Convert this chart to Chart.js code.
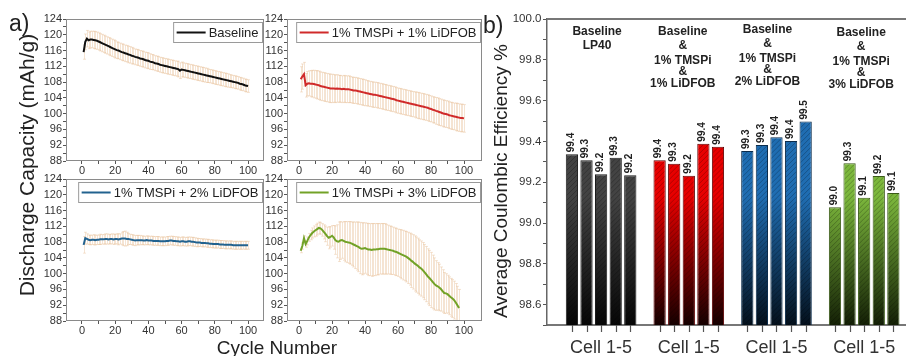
<!DOCTYPE html>
<html>
<head>
<meta charset="utf-8">
<script src="https://cdn.jsdelivr.net/npm/chart.js@4.4.1/dist/chart.umd.min.js"></script>
<style>
  body { margin: 0; background: #fff; }
  #wrap { position: relative; width: 906px; height: 356px; overflow: hidden; font-family: Arial, "Liberation Sans", sans-serif; color: #222; }
  canvas { position: absolute; }
  .txt { position: absolute; white-space: nowrap; line-height: 1; }
  .mid { transform: translate(-50%, -50%); }
  .rot { transform: translate(-50%, -50%) rotate(-90deg); }
</style>
</head>
<body>
<div id="wrap">
  <canvas id="capBase" width="266" height="178" style="left:0;top:0"></canvas>
  <canvas id="capT1" width="236" height="178" style="left:250px;top:0"></canvas>
  <canvas id="capT2" width="266" height="178" style="left:0;top:160px"></canvas>
  <canvas id="capT3" width="236" height="178" style="left:250px;top:160px"></canvas>
  <canvas id="ceChart" width="426" height="356" style="left:480px;top:0"></canvas>
  <div class="txt" style="left:9px;top:12px;font-size:23px">a)</div>
  <div class="txt" style="left:483px;top:14px;font-size:23px">b)</div>
  <div class="txt rot" style="left:26px;top:165px;font-size:21px">Discharge Capacity (mAh/g)</div>
  <div class="txt mid" style="left:277px;top:347px;font-size:19px">Cycle Number</div>
  <div class="txt rot" style="left:500px;top:181px;font-size:19px">Average Coulombic Efficiency %</div>
</div>
<script>
Chart.defaults.font.family = 'Arial, "Liberation Sans", sans-serif';
Chart.defaults.color = '#333';

// ---- a) discharge capacity vs cycle ----
const cycleTicks = [0, 20, 40, 60, 80, 100];
const capacityTicks = [88, 92, 96, 100, 104, 108, 112, 116, 120, 124];

const baseline = [115.6,118.2,119.0,118.6,118.8,118.8,118.7,118.6,118.5,118.3,
  118.1,117.9,117.7,117.5,117.3,117.1,116.9,116.7,116.5,116.3,
  116.1,116.0,115.8,115.6,115.5,115.3,115.2,115.0,114.9,114.7,
  114.6,114.4,114.3,114.2,114.0,113.9,113.8,113.6,113.5,113.4,
  113.2,113.1,113.0,112.8,112.7,112.6,112.4,112.3,112.2,112.1,
  112.0,111.9,111.8,111.7,111.6,111.5,111.4,111.3,110.9,111.2,
  111.1,111.0,110.9,110.8,110.7,110.6,110.5,110.4,110.3,110.2,
  110.1,110.0,109.9,109.8,109.7,109.6,109.5,109.4,109.3,109.2,
  109.1,109.0,108.9,108.8,108.7,108.6,108.5,108.4,108.3,108.2,
  108.1,108.0,107.9,107.8,107.6,107.5,107.4,107.2,107.1,107.0];
const baselineErr = [1.8,2.0,2.1,2.1,2.1,2.1,2.2,2.2,2.2,2.2,
  2.2,2.2,2.2,2.2,2.2,2.2,2.2,2.2,2.2,2.2,
  2.1,2.1,2.1,2.1,2.1,2.1,2.1,2.1,2.1,2.1,
  2.0,2.0,2.0,2.0,2.0,2.0,2.0,2.0,2.0,2.0,
  2.0,1.9,1.9,1.9,1.9,1.9,1.9,1.9,1.9,1.9,
  1.9,1.9,1.9,1.9,1.9,1.9,1.9,2.0,2.0,1.9,
  1.8,1.8,1.8,1.8,1.8,1.8,1.8,1.8,1.8,1.8,
  1.8,1.8,1.8,1.8,1.8,1.7,1.7,1.7,1.7,1.7,
  1.7,1.7,1.7,1.7,1.7,1.7,1.7,1.7,1.6,1.6,
  1.6,1.6,1.6,1.6,1.6,1.6,1.6,1.6,1.6,1.6];

const tmspi1 = [108.7,109.4,110.0,107.2,107.6,107.7,107.6,107.6,107.5,107.4,
  107.3,107.2,107.0,106.9,106.8,106.7,106.6,106.5,106.4,106.4,
  106.4,106.3,106.4,106.3,106.3,106.2,106.3,106.2,106.2,106.2,
  106.1,106.0,105.9,105.9,105.8,105.7,105.6,105.5,105.4,105.3,
  105.2,105.1,105.0,104.9,104.8,104.8,104.7,104.6,104.5,104.4,
  104.3,104.2,104.1,104.0,103.9,103.8,103.7,103.6,103.4,103.3,
  103.2,103.1,103.0,102.9,102.8,102.7,102.6,102.5,102.4,102.3,
  102.2,102.1,102.0,101.9,101.8,101.7,101.6,101.5,101.3,101.2,
  101.0,100.9,100.7,100.6,100.4,100.3,100.1,100.0,99.9,99.8,
  99.6,99.5,99.4,99.3,99.2,99.1,99.0,98.9,98.9,98.8];
const tmspi1Err = [3.2,3.2,3.0,3.0,3.1,3.2,3.3,3.4,3.5,3.5,
  3.6,3.6,3.6,3.6,3.6,3.6,3.6,3.6,3.6,3.6,
  3.5,3.5,3.5,3.4,3.4,3.4,3.4,3.4,3.4,3.4,
  3.3,3.3,3.3,3.3,3.3,3.3,3.3,3.3,3.3,3.3,
  3.2,3.2,3.2,3.2,3.2,3.2,3.2,3.2,3.2,3.2,
  3.2,3.2,3.2,3.2,3.2,3.2,3.2,3.2,3.2,3.2,
  3.2,3.2,3.2,3.2,3.2,3.2,3.2,3.2,3.2,3.2,
  3.3,3.3,3.3,3.3,3.3,3.3,3.3,3.3,3.3,3.3,
  3.3,3.3,3.4,3.4,3.4,3.4,3.4,3.4,3.4,3.4,
  3.4,3.4,3.4,3.4,3.5,3.5,3.5,3.5,3.5,3.5];

const tmspi2 = [107.3,109.0,108.8,108.6,108.5,108.6,108.6,108.5,108.6,108.6,
  108.7,108.7,108.7,108.8,108.8,108.7,108.8,108.8,108.7,108.8,
  108.8,108.7,108.8,108.9,108.9,108.9,108.8,108.8,108.7,108.6,
  108.5,108.4,108.5,108.5,108.5,108.5,108.4,108.4,108.5,108.4,
  108.4,108.4,108.3,108.3,108.3,108.3,108.2,108.2,108.2,108.2,
  108.3,108.3,108.4,108.4,108.3,108.3,108.2,108.2,108.1,108.2,
  108.2,108.1,108.1,108.2,108.2,108.1,108.1,108.0,107.9,107.9,
  107.9,107.8,107.8,107.8,107.7,107.7,107.6,107.6,107.5,107.5,
  107.5,107.5,107.4,107.4,107.4,107.3,107.3,107.3,107.3,107.3,
  107.2,107.2,107.2,107.2,107.2,107.2,107.2,107.2,107.2,107.2];
const tmspi2Err = [2.1,1.5,1.3,1.2,1.2,1.2,1.3,1.2,1.2,1.2,
  1.3,1.2,1.2,1.3,1.3,1.2,1.2,1.3,1.3,1.2,
  1.3,1.4,1.3,1.6,1.8,1.9,1.7,1.4,1.3,1.3,
  1.3,1.3,1.2,1.2,1.2,1.1,1.1,1.1,1.1,1.1,
  1.1,1.1,1.1,1.1,1.1,1.1,1.1,1.1,1.1,1.1,
  1.1,1.1,1.1,1.1,1.1,1.1,1.1,1.1,1.1,1.1,
  1.1,1.1,1.1,1.1,1.1,1.1,1.1,1.1,1.1,1.0,
  1.0,1.0,1.0,1.0,1.0,1.0,1.0,1.0,1.0,1.0,
  1.0,1.0,1.0,1.0,1.0,1.0,1.0,1.0,1.0,1.0,
  1.0,1.0,1.0,1.0,1.0,1.0,1.0,1.0,1.0,1.0];

const tmspi3 = [105.8,107.0,109.0,107.5,108.3,109.2,109.8,110.3,110.7,111.0,
  111.3,111.6,111.5,111.1,110.6,110.1,109.5,109.1,109.3,109.6,
  109.2,108.5,108.2,108.1,108.4,108.5,108.3,108.1,108.0,107.9,
  107.8,107.6,107.4,107.2,107.0,106.8,106.5,106.3,106.4,106.5,
  106.3,106.1,106.1,106.0,106.1,106.1,106.2,106.2,106.3,106.3,
  106.3,106.3,106.2,106.1,106.0,105.9,105.8,105.6,105.5,105.3,
  105.1,104.9,104.7,104.5,104.3,104.0,103.7,103.3,103.0,102.6,
  102.3,102.0,101.6,101.3,100.9,100.4,99.9,99.3,98.9,98.4,
  97.9,97.4,97.0,96.8,96.5,96.1,95.6,95.1,95.0,94.8,
  94.4,94.0,93.7,93.3,92.7,92.0,91.3];
const tmspi3Err = [0.5,0.8,0.6,0.8,1.0,1.0,1.2,1.3,1.4,1.5,
  1.5,1.5,1.5,1.6,1.8,2.0,2.3,2.8,2.6,2.6,
  3.0,3.6,4.2,5.0,4.8,4.6,4.9,5.1,5.2,5.3,
  5.4,5.5,5.7,5.9,6.1,6.3,6.5,6.6,6.5,6.4,
  6.5,6.6,6.6,6.7,6.6,6.6,6.5,6.5,6.4,6.4,
  6.4,6.4,6.3,6.2,6.1,6.1,6.0,6.0,6.0,6.0,
  6.1,6.2,6.3,6.3,6.4,6.5,6.6,6.8,6.9,7.0,
  7.0,7.0,7.0,7.0,7.0,7.0,7.0,7.0,7.0,7.0,
  6.8,6.6,6.3,6.0,5.9,5.6,5.4,5.2,5.0,4.8,
  4.8,4.8,4.8,4.8,4.8,4.8,4.7];

// ---- b) average coulombic efficiency, 5 cells per electrolyte ----
const cellNames = ['Cell 1', 'Cell 2', 'Cell 3', 'Cell 4', 'Cell 5'];
const cellAxisLabel = 'Cell 1-5';
const groupTitles = [
  ['Baseline', 'LP40'],
  ['Baseline', '&', '1% TMSPi', '&', '1% LiDFOB'],
  ['Baseline', '&', '1% TMSPi', '&', '2% LiDFOB'],
  ['Baseline', '&', '1% TMSPi', '&', '3% LiDFOB'],
];
const ceBaseline = [99.337, 99.307, 99.239, 99.320, 99.234];
const ceTmspi1 = [99.307, 99.291, 99.232, 99.389, 99.374];
const ceTmspi2 = [99.353, 99.382, 99.420, 99.402, 99.497];
const ceTmspi3 = [99.077, 99.293, 99.124, 99.230, 99.147];
const ceLabels = [
  ['99.4', '99.3', '99.2', '99.3', '99.2'],
  ['99.4', '99.3', '99.2', '99.4', '99.4'],
  ['99.3', '99.3', '99.4', '99.4', '99.5'],
  ['99.0', '99.3', '99.1', '99.2', '99.1'],
];
const ceTicks = ['98.6', '98.8', '99.0', '99.2', '99.4', '99.6', '99.8', '100.0'];

const withMinor = (major) => {
  const out = [];
  major.forEach((v, i) => {
    out.push(v);
    if (i < major.length - 1) out.push((v + major[i + 1]) / 2);
  });
  return out;
};

function capacityPanel(id, label, color, values, errors, frame) {
  const decor = {
    id: 'decor',
    beforeDatasetsDraw(chart) {
      const { ctx, chartArea: a, scales: { x, y } } = chart;
      ctx.save();
      ctx.beginPath();
      ctx.rect(a.left, a.top, a.width, a.height);
      ctx.clip();
      ctx.strokeStyle = 'rgba(230,185,140,0.38)';
      ctx.lineWidth = 1;
      values.forEach((v, i) => {
        const px = Math.round(x.getPixelForValue(i + 1)) + 0.5;
        const t = y.getPixelForValue(v + errors[i]);
        const b = y.getPixelForValue(v - errors[i]);
        ctx.beginPath();
        ctx.moveTo(px, t); ctx.lineTo(px, b);
        ctx.moveTo(px - 1.5, t); ctx.lineTo(px + 1.5, t);
        ctx.moveTo(px - 1.5, b); ctx.lineTo(px + 1.5, b);
        ctx.stroke();
      });
      ctx.restore();
    },
    afterDraw(chart) {
      const { ctx, chartArea: a } = chart;
      ctx.save();
      ctx.strokeStyle = '#8a8a8a';
      ctx.lineWidth = 1;
      ctx.strokeRect(a.left + 0.5, a.top + 0.5, a.width - 1, a.height - 1);
      // legend box
      ctx.font = '13px Arial, "Liberation Sans", sans-serif';
      const tw = ctx.measureText(label).width;
      const w = 3 + 29 + 3 + tw + 4;
      const right = a.right - 1.5;
      const left = right - w;
      const top = a.top + 3.5;
      ctx.fillStyle = '#fff';
      ctx.fillRect(left, top, w, 20);
      ctx.strokeStyle = '#9a9a9a';
      ctx.strokeRect(left, top, w, 20);
      ctx.strokeStyle = color;
      ctx.lineWidth = 2;
      ctx.beginPath();
      ctx.moveTo(left + 3, top + 10);
      ctx.lineTo(left + 32, top + 10);
      ctx.stroke();
      ctx.fillStyle = '#222';
      ctx.textBaseline = 'middle';
      ctx.fillText(label, left + 35, top + 10.5);
      ctx.restore();
    }
  };

  return new Chart(document.getElementById(id), {
    type: 'line',
    data: {
      datasets: [{
        label,
        data: values.map((v, i) => ({ x: i + 1, y: v })),
        borderColor: color,
        borderWidth: 2,
        pointRadius: 0,
        tension: 0,
        fill: false,
      }],
    },
    options: {
      animation: false,
      responsive: false,
      devicePixelRatio: 1,
      layout: { padding: { top: 19, right: frame.padRight, bottom: 0, left: 0 } },
      plugins: { legend: { display: false }, tooltip: { enabled: false } },
      scales: {
        x: {
          type: 'linear',
          min: frame.xMin,
          max: frame.xMax,
          afterBuildTicks: (s) => { s.ticks = withMinor(cycleTicks).map((v) => ({ value: v })); },
          afterFit: (s) => { s.height = 17; },
          ticks: {
            autoSkip: false, maxRotation: 0, minRotation: 0, padding: 0,
            font: { size: 11 }, color: '#333',
            callback: (v) => (cycleTicks.includes(v) ? v : ''),
          },
          grid: { drawOnChartArea: false, tickLength: 3, color: '#555' },
          border: { display: false },
        },
        y: {
          min: 88,
          max: 124,
          afterBuildTicks: (s) => { s.ticks = withMinor(capacityTicks).map((v) => ({ value: v })); },
          afterFit: (s) => { s.width = frame.yWidth; },
          ticks: {
            autoSkip: false, padding: 1,
            font: { size: 11 }, color: '#333',
            callback: (v) => (capacityTicks.includes(v) ? v : ''),
          },
          grid: { drawOnChartArea: false, tickLength: 3, color: '#555' },
          border: { display: false },
        },
      },
    },
    plugins: [decor],
  });
}

const leftFrame = { padRight: 2, yWidth: 66, xMin: -9.6, xMax: 109.6 };
const rightFrame = { padRight: 4, yWidth: 37, xMin: -7.3, xMax: 110.9 };
capacityPanel('capBase', 'Baseline', '#111111', baseline, baselineErr, leftFrame);
capacityPanel('capT1', '1% TMSPi + 1% LiDFOB', '#d02a2a', tmspi1, tmspi1Err, rightFrame);
capacityPanel('capT2', '1% TMSPi + 2% LiDFOB', '#22628f', tmspi2, tmspi2Err, leftFrame);
capacityPanel('capT3', '1% TMSPi + 3% LiDFOB', '#72a227', tmspi3, tmspi3Err, rightFrame);

// ---- b) bar chart ----
const ceGroups = [ceBaseline, ceTmspi1, ceTmspi2, ceTmspi3];
const groupTop = ['#434343', '#e80000', '#1f6db2', '#7cb83c'];
const groupBottom = ['#060606', '#160000', '#04101c', '#142006'];
const groupEdge = ['#1c1c1c', '#5e0000', '#0b2c4c', '#3b5a18'];
const titleNudge = [-4, -6, -9, -3];
const titleTop = [32, 31.5, 29.5, 32.5];
const titleLineGap = [0, 14, 29.5, 40, 52.5];

function barFill(ctx) {
  const i = ctx.dataIndex;
  const a = ctx.chart.chartArea;
  if (!a) return groupTop[i];
  const g = ctx.chart.ctx.createLinearGradient(0, a.top + a.height * 0.58, 0, a.bottom);
  g.addColorStop(0, groupTop[i]);
  g.addColorStop(1, groupBottom[i]);
  return g;
}

const barDecor = {
  id: 'barDecor',
  afterDatasetsDraw(chart) {
    const { ctx, chartArea: a, scales: { x } } = chart;
    ctx.save();
    chart.data.datasets.forEach((ds, j) => {
      chart.getDatasetMeta(j).data.forEach((bar, i) => {
        const props = bar.getProps(['x', 'y', 'base', 'width'], true);
        const bx = props.x, by = props.y, width = props.width;
        const base = Math.min(props.base, a.bottom);
        const left = bx - width / 2 + 1;
        const w = width - 2;
        const h = base - by - 1;
        // hatch
        ctx.save();
        ctx.beginPath();
        ctx.rect(left, by + 1, w, h);
        ctx.clip();
        ctx.strokeStyle = 'rgba(0,0,0,0.3)';
        ctx.lineWidth = 0.8;
        ctx.beginPath();
        for (let k = -h; k < w + h; k += 5) {
          ctx.moveTo(left + k, base);
          ctx.lineTo(left + k + h + 2, by - 1);
        }
        ctx.stroke();
        ctx.restore();
        // value label
        ctx.save();
        ctx.translate(bx - 1, by - 2);
        ctx.rotate(-Math.PI / 2);
        ctx.font = 'bold 10px Arial, "Liberation Sans", sans-serif';
        ctx.fillStyle = '#222';
        ctx.textAlign = 'left';
        ctx.textBaseline = 'middle';
        ctx.fillText(ceLabels[i][j], 0, 0);
        ctx.restore();
        // tick mark under bar
        ctx.strokeStyle = '#555';
        ctx.lineWidth = 1.2;
        ctx.beginPath();
        ctx.moveTo(Math.round(bx) + 0.5, a.bottom);
        ctx.lineTo(Math.round(bx) + 0.5, a.bottom + 7);
        ctx.stroke();
      });
    });
    // group titles
    ctx.font = 'bold 12px Arial, "Liberation Sans", sans-serif';
    ctx.fillStyle = '#222';
    ctx.textAlign = 'center';
    ctx.textBaseline = 'middle';
    groupTitles.forEach((lines, i) => {
      const cx = x.getPixelForValue(i) + titleNudge[i];
      lines.forEach((t, k) => ctx.fillText(t, cx, titleTop[i] + titleLineGap[k]));
    });
    ctx.restore();
  },
  afterDraw(chart) {
    const { ctx, chartArea: a } = chart;
    ctx.save();
    ctx.strokeStyle = '#777';
    ctx.lineWidth = 2;
    ctx.beginPath();
    ctx.moveTo(a.left, a.top);
    ctx.lineTo(a.right, a.top);
    ctx.stroke();
    ctx.restore();
  },
};

const ceMinorTicks = [];
for (let v = 985; v <= 1000; v++) ceMinorTicks.push(v / 10);

new Chart(document.getElementById('ceChart'), {
  type: 'bar',
  data: {
    datasets: cellNames.map((name, j) => ({
      label: name,
      data: ceGroups.map((g, i) => ({ x: i, y: g[j] })),
      backgroundColor: barFill,
      borderColor: (ctx) => groupEdge[ctx.dataIndex],
      borderWidth: 1,
      categoryPercentage: 0.832,
      barPercentage: 0.84,
    })),
  },
  options: {
    animation: false,
    responsive: false,
    devicePixelRatio: 1,
    layout: { padding: { top: 19, right: 0, bottom: 0, left: 0 } },
    plugins: { legend: { display: false }, tooltip: { enabled: false } },
    scales: {
      x: {
        type: 'linear',
        min: -0.617,
        max: 3.477,
        offset: false,
        afterBuildTicks: (s) => { s.ticks = ceGroups.map((g, i) => ({ value: i })); },
        afterFit: (s) => { s.height = 31; },
        ticks: {
          autoSkip: false, maxRotation: 0, minRotation: 0, padding: 5,
          font: { size: 18 }, color: '#333',
          callback: () => cellAxisLabel,
        },
        grid: { drawOnChartArea: false, tickLength: 7, tickColor: 'rgba(0,0,0,0)' },
        border: { color: '#777', width: 2 },
      },
      y: {
        min: 98.5,
        max: 100,
        afterBuildTicks: (s) => { s.ticks = ceMinorTicks.map((v) => ({ value: v })); },
        afterFit: (s) => { s.width = 67; },
        ticks: {
          autoSkip: false, padding: 1.5,
          font: { size: 11.5 }, color: '#333',
          callback: (v) => (ceTicks.includes(v.toFixed(1)) ? v.toFixed(1) : ''),
        },
        grid: { drawOnChartArea: false, tickLength: 4, color: '#555' },
        border: { color: '#666', width: 1.5 },
      },
    },
  },
  plugins: [barDecor],
});
</script>
</body>
</html>
